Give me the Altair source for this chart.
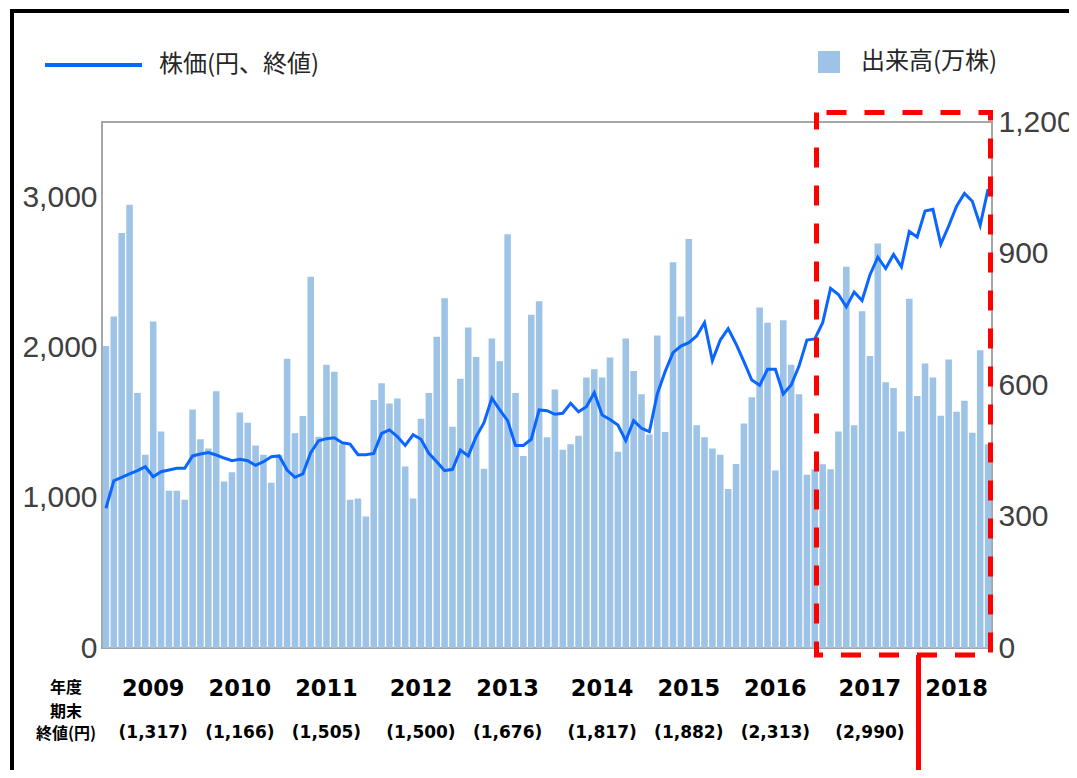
import altair as alt
import pandas as pd

# ---- data ----
months = pd.period_range("2009-04", periods=113, freq="M").strftime("%Y-%m").tolist()

volume = [
    689, 756, 947, 1011, 582, 441, 745, 494, 359, 359, 338, 544, 476, 455, 586,
    380, 401, 537, 514, 462, 441, 377, 440, 660, 490, 529, 847, 482, 646, 630,
    465, 338, 341, 300, 566, 604, 558, 569, 414, 341, 523, 582, 710, 798, 505,
    614, 731, 664, 409, 706, 654, 944, 582, 438, 760, 791, 481, 590, 452, 465,
    484, 617, 636, 617, 663, 448, 706, 632, 579, 487, 713, 493, 880, 756, 933,
    508, 481, 455, 441, 363, 420, 512, 572, 777, 742, 405, 748, 646, 579, 395,
    408, 419, 408, 494, 870, 508, 768, 666, 923, 606, 593, 494, 797, 575, 649,
    617, 530, 658, 539, 564, 491, 679, 465,
]

price = [
    930, 1113, 1136, 1158, 1180, 1206, 1140, 1173, 1184, 1196, 1196, 1278, 1291, 1300, 1284,
    1264, 1246, 1255, 1246, 1215, 1240, 1273, 1278, 1184, 1136, 1158, 1300, 1379, 1393, 1399,
    1366, 1357, 1286, 1286, 1295, 1428, 1451, 1406, 1348, 1419, 1389, 1295, 1240, 1180, 1189,
    1317, 1278, 1406, 1499, 1663, 1584, 1513, 1348, 1348, 1389, 1584, 1579, 1555, 1562, 1628,
    1572, 1606, 1699, 1550, 1521, 1484, 1380, 1513, 1462, 1439, 1690, 1839, 1965, 2009, 2032,
    2076, 2165, 1912, 2049, 2125, 2023, 1905, 1783, 1748, 1854, 1854, 1690, 1750, 1876, 2049,
    2057, 2164, 2393, 2352, 2270, 2369, 2312, 2482, 2600, 2525, 2619, 2536, 2772, 2735, 2907,
    2919, 2687, 2808, 2940, 3025, 2973, 2813, 3053,
]

fy_labels = ["2009", "2010", "2011", "2012", "2013", "2014", "2015", "2016", "2017", "2018"]
fy_close = ["(1,317)", "(1,166)", "(1,505)", "(1,500)", "(1,676)", "(1,817)", "(1,882)",
            "(2,313)", "(2,990)", ""]
fy_label_month = [6, 17, 28, 40, 51, 63, 74, 85, 97, 108]

price_name = "株価(円、終値)"
volume_name = "出来高(万株)"

df = pd.DataFrame({"month": months, "volume": volume, "price": price})
df["pseries"] = price_name
df["vseries"] = volume_name

lab = pd.DataFrame({
    "month": [months[i] for i in fy_label_month],
    "year": fy_labels,
    "close": fy_close,
})

W, H = 890, 526
AXIS_FONT = "Liberation Sans"
JP_FONT = "Noto Sans CJK JP"

xscale = alt.Scale(domain=months, paddingInner=0.17, paddingOuter=0.085)
x = alt.X("month:O", scale=xscale, axis=None)

bars = alt.Chart(df).mark_bar().encode(
    x=x,
    y=alt.Y("volume:Q",
            scale=alt.Scale(domain=[0, 1200], nice=False),
            axis=alt.Axis(orient="right", values=[0, 300, 600, 900, 1200], format=",.0f",
                          title=None, ticks=False, domain=False, grid=False,
                          labelFontSize=30, labelColor="#404040", labelFont=AXIS_FONT,
                          labelPadding=6)),
    fill=alt.Fill("vseries:N",
                  scale=alt.Scale(domain=[volume_name], range=["#9DC3E6"]),
                  legend=alt.Legend(orient="none", legendX=715, legendY=-72, title=None,
                                    symbolType="square", symbolSize=484, symbolStrokeWidth=0,
                                    labelFontSize=24, labelFont=JP_FONT, labelColor="#262626",
                                    labelOffset=20, labelLimit=400, padding=0)),
)

line = alt.Chart(df).mark_line(strokeWidth=3).encode(
    x=x,
    y=alt.Y("price:Q",
            scale=alt.Scale(domain=[0, 3500], nice=False),
            axis=alt.Axis(orient="left", values=[0, 1000, 2000, 3000], format=",.0f",
                          title=None, ticks=False, domain=False, grid=False,
                          labelFontSize=30, labelColor="#404040", labelFont=AXIS_FONT,
                          labelPadding=5)),
    stroke=alt.Stroke("pseries:N",
                      scale=alt.Scale(domain=[price_name], range=["#0A66FF"]),
                      legend=alt.Legend(orient="none", legendX=-59, legendY=-107.5, title=None,
                                        symbolType="stroke", symbolSize=9409,
                                        symbolStrokeWidth=4,
                                        labelFontSize=24, labelFont=JP_FONT,
                                        labelColor="#262626", labelOffset=15,
                                        labelLimit=400, padding=0)),
)

one = alt.Data(values=[{}])

years_t = alt.Chart(lab).mark_text(font="DejaVu Sans", fontWeight="bold", fontSize=22.5,
                                   baseline="middle", color="black").encode(
    x=x, y=alt.value(567), text="year:N")

close_t = alt.Chart(lab).mark_text(font="DejaVu Sans", fontWeight="bold", fontSize=17,
                                   baseline="middle", color="black").encode(
    x=x, y=alt.value(611), text="close:N")

hdr_style = dict(font=JP_FONT, fontWeight="bold", fontSize=16, baseline="middle", color="black")
hdr1 = alt.Chart(one).mark_text(**hdr_style).encode(
    x=alt.value(-36), y=alt.value(566), text=alt.value("年度"))
hdr2 = alt.Chart(one).mark_text(**hdr_style).encode(
    x=alt.value(-36), y=alt.value(590), text=alt.value("期末"))
hdr3 = alt.Chart(one).mark_text(**hdr_style).encode(
    x=alt.value(-36), y=alt.value(612), text=alt.value("終値(円)"))

frame_left = alt.Chart(one).mark_rule(color="black", strokeWidth=4).encode(
    x=alt.value(-90), y=alt.value(-113), y2=alt.value(700))
frame_top = alt.Chart(one).mark_rule(color="black", strokeWidth=4).encode(
    x=alt.value(-92), x2=alt.value(1000), y=alt.value(-111))

red_box = alt.Chart(one).mark_rect(fillOpacity=0, stroke="#FF0000", strokeWidth=5,
                                   strokeDash=[20, 18], strokeDashOffset=28).encode(
    x=alt.value(714.5), x2=alt.value(888.5), y=alt.value(-9.5), y2=alt.value(533))
red_rule = alt.Chart(one).mark_rule(color="#FF0000", strokeWidth=5).encode(
    x=alt.value(816.5), y=alt.value(533), y2=alt.value(700))

chart = alt.layer(
    bars, line, years_t, close_t, hdr1, hdr2, hdr3,
    frame_left, frame_top, red_box, red_rule,
).resolve_scale(
    y="independent", fill="independent", stroke="independent"
).properties(
    width=W, height=H,
    autosize="none",
    padding={"left": 94, "top": 114, "right": 77, "bottom": 122},
    background="white",
).configure_view(
    stroke="#A6A6A6", strokeWidth=2
)

chart.save("out.html", embed_options={"renderer": "svg", "actions": False})
